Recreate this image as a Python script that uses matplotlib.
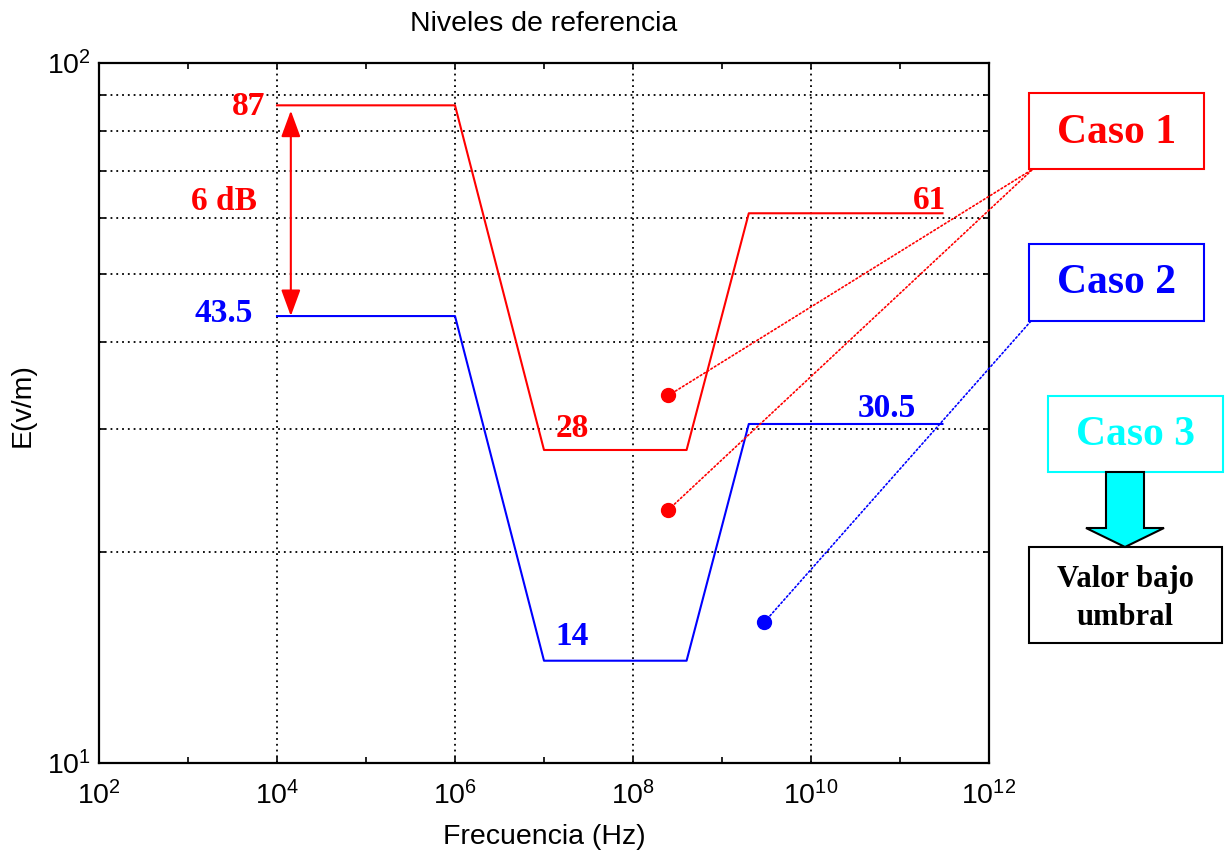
import matplotlib
matplotlib.use("Agg")
import matplotlib.pyplot as plt
from matplotlib.ticker import FixedLocator, NullFormatter, LogFormatterSciNotation
from matplotlib.patches import Rectangle, Polygon, ConnectionPatch

plt.rcParams['font.family'] = ['Liberation Sans', 'DejaVu Sans']
plt.rcParams['mathtext.fontset'] = 'custom'
plt.rcParams['mathtext.rm'] = 'Liberation Sans'
plt.rcParams['mathtext.it'] = 'Liberation Sans:italic'
plt.rcParams['mathtext.bf'] = 'Liberation Sans:bold'

# ---- data ----
freq = [1e4, 1e6, 1e7, 4e8, 2e9, 3e11]
e_caso1 = [87, 87, 28, 28, 61, 61]
e_caso2 = [43.5, 43.5, 14, 14, 30.5, 30.5]
dots1_f = [2.5e8, 2.5e8]
dots1_e = [33.5, 23.0]
dots2_f = [3e9]
dots2_e = [15.9]
x_major = [1e2, 1e4, 1e6, 1e8, 1e10, 1e12]
x_minor = [1e3, 1e5, 1e7, 1e9, 1e11]
y_major = [10, 100]
y_minor = [20, 30, 40, 50, 60, 70, 80, 90]
val_labels1 = ["87", "28", "61"]
val_labels2 = ["43.5", "14", "30.5"]

W, H = 1231, 850
fig = plt.figure(figsize=(W / 100, H / 100), dpi=100)
ax = fig.add_axes([99 / W, (H - 763) / H, 890 / W, 700 / H])

RED = '#ff0000'
BLUE = '#0000ff'
CYAN = '#00ffff'
FS = 20.5

ax.plot(freq, e_caso1, color=RED, lw=1.5)
ax.plot(freq, e_caso2, color=BLUE, lw=1.5)
ax.plot(dots1_f, dots1_e, 'o', color=RED, ms=10, ls='none')
ax.plot(dots2_f, dots2_e, 'o', color=BLUE, ms=10, ls='none')

ax.set_xscale('log')
ax.set_yscale('log')
ax.set_xlim(1e2, 1e12)
ax.set_ylim(10, 100)
ax.xaxis.set_major_locator(FixedLocator(x_major))
ax.xaxis.set_minor_locator(FixedLocator(x_minor))
ax.xaxis.set_minor_formatter(NullFormatter())
ax.yaxis.set_major_locator(FixedLocator(y_major))
ax.yaxis.set_minor_locator(FixedLocator(y_minor))
ax.yaxis.set_minor_formatter(NullFormatter())
ax.xaxis.set_major_formatter(LogFormatterSciNotation())
ax.yaxis.set_major_formatter(LogFormatterSciNotation())

ax.tick_params(which='both', direction='in', top=True, right=True,
               length=4, width=1.2, labelsize=FS)
ax.tick_params(axis='x', which='major', pad=13)
ax.tick_params(axis='y', which='major', pad=6)
for s in ax.spines.values():
    s.set_linewidth(1.6)

grid_kw = dict(color='black', linestyle=(0, (1, 2.2)), linewidth=1.3)
ax.grid(True, which='major', axis='x', **grid_kw)
ax.grid(True, which='minor', axis='y', **grid_kw)

ax.set_title('Niveles de referencia', fontsize=FS, pad=23)
ax.set_xlabel('Frecuencia (Hz)', fontsize=FS)
ax.xaxis.set_label_coords(0.5, -(844 - 763) / 700)
ax.xaxis.label.set_va('baseline')
ax.set_ylabel('E(v/m)', fontsize=FS)
ax.yaxis.set_label_coords((22.5 - 99) / 890, (763 - 405) / 700)
ax.yaxis.label.set_va('center')

serif = ['Liberation Serif', 'DejaVu Serif']
lab_kw = dict(fontsize=24, fontweight='bold', family=serif, va='baseline')
ax.text(7.4e3, 84.3, val_labels1[0], color=RED, ha='right', **lab_kw)
ax.text(2.55e3, 61.7, '6 dB', color=RED, ha='center', **lab_kw)
ax.text(2.55e3, 42.7, val_labels2[0], color=BLUE, ha='center', **lab_kw)
ax.text(2.06e7, 29.25, val_labels1[1], color=RED, ha='center', **lab_kw)
ax.text(2.06e7, 14.74, val_labels2[1], color=BLUE, ha='center', **lab_kw)
ax.text(2.17e11, 61.9, val_labels1[2], color=RED, ha='center', **lab_kw)
ax.text(7.14e10, 31.2, val_labels2[2], color=BLUE, ha='center', **lab_kw)

# 6 dB double arrow
ax.annotate('', xy=(1.43e4, 85.5), xytext=(1.43e4, 43.5),
            arrowprops=dict(arrowstyle='<|-|>,head_length=0.9,head_width=0.33',
                            color=RED, lw=1.5, shrinkA=0, shrinkB=0,
                            mutation_scale=18))

# outside boxes (figure pixel coords, y measured from top)
def fx(x):
    return x / W

def fy(y):
    return 1 - y / H

def box(x0, y0, x1, y1, ec, lw=1.5):
    r = Rectangle((fx(x0), fy(y1)), fx(x1) - fx(x0), fy(y0) - fy(y1),
                  transform=fig.transFigure, fill=False,
                  ec=ec, lw=lw, clip_on=False)
    fig.add_artist(r)

box(1029, 93, 1204, 169, RED)
box(1029, 244, 1204, 321, BLUE)
box(1048, 396, 1223, 472, CYAN)
box(1029, 547, 1222, 643, 'black')

box_kw = dict(fontsize=30, fontweight='bold', family=serif, ha='center', va='baseline')
fig.text(fx(1116.5), fy(143), 'Caso 1', color=RED, **box_kw)
fig.text(fx(1116.5), fy(293), 'Caso 2', color=BLUE, **box_kw)
fig.text(fx(1135.5), fy(445), 'Caso 3', color=CYAN, **box_kw)
small_kw = dict(fontsize=22, fontweight='bold', family=serif, ha='center', va='baseline', color='black')
fig.text(fx(1125.5), fy(587), 'Valor bajo', **small_kw)
fig.text(fx(1125.5), fy(625), 'umbral', **small_kw)

# cyan block arrow
arrow_pts = [(1106, 472), (1144, 472), (1144, 528), (1164, 528), (1125, 547),
             (1086, 528), (1106, 528)]
poly = Polygon([(fx(x), fy(y)) for x, y in arrow_pts], closed=True,
               transform=fig.transFigure, fc=CYAN, ec='black', lw=1.5, clip_on=False)
fig.add_artist(poly)

# dotted connectors
conn_kw = dict(coordsA='data', coordsB='figure pixels', axesA=ax,
               linestyle=(0, (1, 1.5)), lw=1.2, clip_on=False)
for f, e in zip(dots1_f, dots1_e):
    cp = ConnectionPatch(xyA=(f, e), xyB=(1033, H - 169), color=RED, **conn_kw)
    fig.add_artist(cp)
for f, e in zip(dots2_f, dots2_e):
    cp = ConnectionPatch(xyA=(f, e), xyB=(1031, H - 321), color=BLUE, **conn_kw)
    fig.add_artist(cp)

fig.savefig('out.png', dpi=100)
